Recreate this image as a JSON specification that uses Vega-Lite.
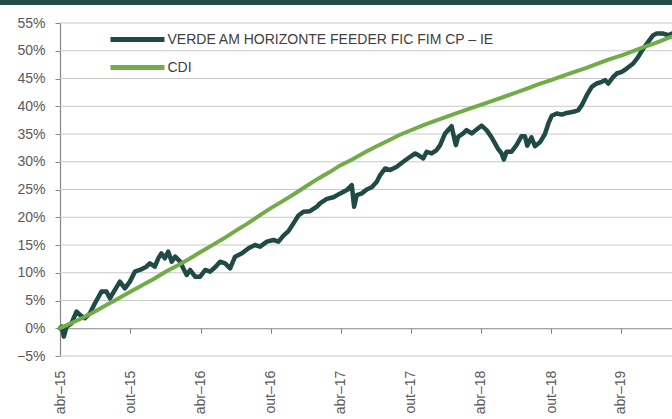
{
  "$schema": "https://vega.github.io/schema/vega-lite/v6.json",
  "autosize": {"type": "none"},
  "width": 612,
  "height": 333,
  "padding": {"left": 60, "top": 23, "right": 0, "bottom": 63},
  "background": "white",
  "config": {
    "view": {"stroke": null},
    "font": "Liberation Sans",
    "axis": {"labelFont": "Liberation Sans", "labelFontSize": 14, "labelColor": "#595959", "domainColor": "#868686", "tickColor": "#868686", "domainWidth": 1.2, "tickSize": 5, "labelOverlap": false, "labelFlush": false, "labelBound": false}
  },
  "datasets": {
    "gridvals": [
      {"g": -0.05}, {"g": 0.05}, {"g": 0.1}, {"g": 0.15}, {"g": 0.2}, {"g": 0.25},
      {"g": 0.3}, {"g": 0.35}, {"g": 0.4}, {"g": 0.45}, {"g": 0.5}, {"g": 0.55}
    ],
    "verde": [
      {"d": "2015-04-01", "v": 0.000}, {"d": "2015-04-06", "v": 0.003}, {"d": "2015-04-11", "v": -0.015},
      {"d": "2015-04-18", "v": 0.003}, {"d": "2015-05-01", "v": 0.009}, {"d": "2015-05-14", "v": 0.030},
      {"d": "2015-05-23", "v": 0.024}, {"d": "2015-06-05", "v": 0.018}, {"d": "2015-06-18", "v": 0.027},
      {"d": "2015-07-01", "v": 0.045}, {"d": "2015-07-18", "v": 0.066}, {"d": "2015-07-31", "v": 0.066},
      {"d": "2015-08-09", "v": 0.054}, {"d": "2015-08-22", "v": 0.069}, {"d": "2015-09-04", "v": 0.084},
      {"d": "2015-09-17", "v": 0.072}, {"d": "2015-09-30", "v": 0.084}, {"d": "2015-10-13", "v": 0.102},
      {"d": "2015-10-26", "v": 0.105}, {"d": "2015-11-12", "v": 0.111}, {"d": "2015-11-21", "v": 0.117},
      {"d": "2015-12-04", "v": 0.111}, {"d": "2015-12-13", "v": 0.126}, {"d": "2015-12-21", "v": 0.135},
      {"d": "2015-12-30", "v": 0.126}, {"d": "2016-01-08", "v": 0.138}, {"d": "2016-01-17", "v": 0.120},
      {"d": "2016-01-26", "v": 0.129}, {"d": "2016-02-08", "v": 0.120}, {"d": "2016-02-16", "v": 0.108},
      {"d": "2016-02-25", "v": 0.096}, {"d": "2016-03-05", "v": 0.105}, {"d": "2016-03-18", "v": 0.093},
      {"d": "2016-03-31", "v": 0.093}, {"d": "2016-04-13", "v": 0.105}, {"d": "2016-04-26", "v": 0.102},
      {"d": "2016-05-09", "v": 0.110}, {"d": "2016-05-22", "v": 0.120}, {"d": "2016-06-04", "v": 0.117},
      {"d": "2016-06-17", "v": 0.108}, {"d": "2016-06-30", "v": 0.129}, {"d": "2016-07-18", "v": 0.135},
      {"d": "2016-08-04", "v": 0.144}, {"d": "2016-08-21", "v": 0.150}, {"d": "2016-09-03", "v": 0.147},
      {"d": "2016-09-21", "v": 0.156}, {"d": "2016-10-08", "v": 0.159}, {"d": "2016-10-21", "v": 0.156},
      {"d": "2016-11-03", "v": 0.167}, {"d": "2016-11-16", "v": 0.175}, {"d": "2016-11-29", "v": 0.189},
      {"d": "2016-12-12", "v": 0.203}, {"d": "2016-12-25", "v": 0.210}, {"d": "2017-01-11", "v": 0.211},
      {"d": "2017-01-29", "v": 0.219}, {"d": "2017-02-06", "v": 0.225}, {"d": "2017-02-24", "v": 0.233},
      {"d": "2017-03-13", "v": 0.236}, {"d": "2017-03-31", "v": 0.243}, {"d": "2017-04-17", "v": 0.249},
      {"d": "2017-04-30", "v": 0.258}, {"d": "2017-05-06", "v": 0.219}, {"d": "2017-05-13", "v": 0.240},
      {"d": "2017-05-26", "v": 0.243}, {"d": "2017-06-08", "v": 0.250}, {"d": "2017-06-21", "v": 0.254},
      {"d": "2017-07-04", "v": 0.264}, {"d": "2017-07-13", "v": 0.276}, {"d": "2017-07-26", "v": 0.288},
      {"d": "2017-08-08", "v": 0.285}, {"d": "2017-08-25", "v": 0.291}, {"d": "2017-09-11", "v": 0.300},
      {"d": "2017-09-29", "v": 0.309}, {"d": "2017-10-12", "v": 0.315}, {"d": "2017-10-20", "v": 0.312},
      {"d": "2017-11-02", "v": 0.306}, {"d": "2017-11-11", "v": 0.318}, {"d": "2017-11-24", "v": 0.315},
      {"d": "2017-12-07", "v": 0.321}, {"d": "2017-12-16", "v": 0.330}, {"d": "2017-12-29", "v": 0.351},
      {"d": "2018-01-06", "v": 0.357}, {"d": "2018-01-15", "v": 0.364}, {"d": "2018-01-19", "v": 0.351},
      {"d": "2018-01-26", "v": 0.330}, {"d": "2018-02-01", "v": 0.345}, {"d": "2018-02-14", "v": 0.351},
      {"d": "2018-02-23", "v": 0.357}, {"d": "2018-03-08", "v": 0.351}, {"d": "2018-03-21", "v": 0.358},
      {"d": "2018-04-03", "v": 0.365}, {"d": "2018-04-16", "v": 0.357}, {"d": "2018-04-29", "v": 0.344},
      {"d": "2018-05-08", "v": 0.333}, {"d": "2018-05-16", "v": 0.323}, {"d": "2018-05-25", "v": 0.315},
      {"d": "2018-05-31", "v": 0.304}, {"d": "2018-06-07", "v": 0.318}, {"d": "2018-06-20", "v": 0.318},
      {"d": "2018-07-03", "v": 0.330}, {"d": "2018-07-16", "v": 0.346}, {"d": "2018-07-25", "v": 0.346},
      {"d": "2018-07-31", "v": 0.329}, {"d": "2018-08-11", "v": 0.344}, {"d": "2018-08-20", "v": 0.328},
      {"d": "2018-09-02", "v": 0.335}, {"d": "2018-09-15", "v": 0.350}, {"d": "2018-09-24", "v": 0.369},
      {"d": "2018-10-03", "v": 0.383}, {"d": "2018-10-16", "v": 0.387}, {"d": "2018-10-29", "v": 0.385},
      {"d": "2018-11-11", "v": 0.388}, {"d": "2018-11-28", "v": 0.390}, {"d": "2018-12-11", "v": 0.393},
      {"d": "2018-12-20", "v": 0.402}, {"d": "2019-01-02", "v": 0.420}, {"d": "2019-01-15", "v": 0.435},
      {"d": "2019-01-28", "v": 0.441}, {"d": "2019-02-10", "v": 0.444}, {"d": "2019-02-19", "v": 0.447},
      {"d": "2019-02-27", "v": 0.441}, {"d": "2019-03-12", "v": 0.453}, {"d": "2019-03-21", "v": 0.459},
      {"d": "2019-04-03", "v": 0.462}, {"d": "2019-04-16", "v": 0.468}, {"d": "2019-05-03", "v": 0.477},
      {"d": "2019-05-16", "v": 0.489}, {"d": "2019-05-29", "v": 0.504}, {"d": "2019-06-11", "v": 0.516},
      {"d": "2019-06-24", "v": 0.528}, {"d": "2019-07-03", "v": 0.531}, {"d": "2019-07-20", "v": 0.531},
      {"d": "2019-08-02", "v": 0.528}, {"d": "2019-08-12", "v": 0.531}
    ],
    "cdi": [
      {"d": "2015-04-01", "v": 0.0}, {"d": "2015-05-01", "v": 0.0095}, {"d": "2015-06-01", "v": 0.0194},
      {"d": "2015-07-01", "v": 0.0303}, {"d": "2015-08-01", "v": 0.0425}, {"d": "2015-09-01", "v": 0.0540},
      {"d": "2015-10-01", "v": 0.0657}, {"d": "2015-11-01", "v": 0.0775}, {"d": "2015-12-01", "v": 0.0889},
      {"d": "2016-01-01", "v": 0.1016}, {"d": "2016-02-01", "v": 0.1131}, {"d": "2016-03-01", "v": 0.1243},
      {"d": "2016-04-01", "v": 0.1373}, {"d": "2016-05-01", "v": 0.1493}, {"d": "2016-06-01", "v": 0.1620},
      {"d": "2016-07-01", "v": 0.1755}, {"d": "2016-08-01", "v": 0.1885}, {"d": "2016-09-01", "v": 0.2030},
      {"d": "2016-10-01", "v": 0.2164}, {"d": "2016-11-01", "v": 0.2291}, {"d": "2016-12-01", "v": 0.2419},
      {"d": "2017-01-01", "v": 0.2558}, {"d": "2017-02-01", "v": 0.2695}, {"d": "2017-03-01", "v": 0.2805},
      {"d": "2017-04-01", "v": 0.2939}, {"d": "2017-05-01", "v": 0.3041}, {"d": "2017-06-01", "v": 0.3163},
      {"d": "2017-07-01", "v": 0.3269}, {"d": "2017-08-01", "v": 0.3375}, {"d": "2017-09-01", "v": 0.3482},
      {"d": "2017-10-01", "v": 0.3568}, {"d": "2017-11-01", "v": 0.3655}, {"d": "2017-12-01", "v": 0.3733},
      {"d": "2018-01-01", "v": 0.3807}, {"d": "2018-02-01", "v": 0.3887}, {"d": "2018-03-01", "v": 0.3951},
      {"d": "2018-04-01", "v": 0.4025}, {"d": "2018-05-01", "v": 0.4098}, {"d": "2018-06-01", "v": 0.4171},
      {"d": "2018-07-01", "v": 0.4245}, {"d": "2018-08-01", "v": 0.4321}, {"d": "2018-09-01", "v": 0.4403},
      {"d": "2018-10-01", "v": 0.4471}, {"d": "2018-11-01", "v": 0.4549}, {"d": "2018-12-01", "v": 0.4620},
      {"d": "2019-01-01", "v": 0.4692}, {"d": "2019-02-01", "v": 0.4771}, {"d": "2019-03-01", "v": 0.4843},
      {"d": "2019-04-01", "v": 0.4913}, {"d": "2019-05-01", "v": 0.4990}, {"d": "2019-06-01", "v": 0.5071},
      {"d": "2019-07-01", "v": 0.5142}, {"d": "2019-08-01", "v": 0.5228}, {"d": "2019-08-12", "v": 0.5255}
    ]
  },
  "resolve": {"axis": {"x": "independent", "y": "independent"}},
  "layer": [
    {
      "data": {"name": "gridvals"},
      "mark": {"type": "rule", "color": "#c8c8c8", "strokeWidth": 1},
      "encoding": {
        "y": {"field": "g", "type": "quantitative", "axis": null}
      }
    },
    {
      "data": {"values": [{}]},
      "mark": {"type": "rect", "color": "#234b48", "clip": false},
      "encoding": {
        "x": {"datum": {"year": 2014, "month": 1, "date": 1, "utc": true}, "type": "temporal", "axis": null},
        "x2": {"datum": {"year": 2020, "month": 12, "date": 31, "utc": true}},
        "y": {"datum": 0.65, "type": "quantitative", "axis": null},
        "y2": {"datum": 0.5824}
      }
    },
    {
      "data": {"name": "verde"},
      "mark": {"type": "line", "strokeWidth": 4.5, "strokeJoin": "round", "strokeCap": "round"},
      "encoding": {
        "x": {
          "field": "d", "type": "temporal", "title": null,
          "scale": {"type": "utc", "domain": [{"year": 2015, "month": 4, "date": 1, "utc": true}, {"year": 2019, "month": 8, "date": 12, "utc": true}], "nice": false},
          "axis": {
            "values": [
              {"year": 2015, "month": 4, "date": 1, "utc": true}, {"year": 2015, "month": 10, "date": 1, "utc": true},
              {"year": 2016, "month": 4, "date": 1, "utc": true}, {"year": 2016, "month": 10, "date": 1, "utc": true},
              {"year": 2017, "month": 4, "date": 1, "utc": true}, {"year": 2017, "month": 10, "date": 1, "utc": true},
              {"year": 2018, "month": 4, "date": 1, "utc": true}, {"year": 2018, "month": 10, "date": 1, "utc": true},
              {"year": 2019, "month": 4, "date": 1, "utc": true}
            ],
            "labelExpr": "(utcmonth(datum.value) == 3 ? 'abr' : 'out') + '–' + utcFormat(datum.value, '%y')",
            "labelAngle": -90, "labelAlign": "right", "labelBaseline": "middle",
            "offset": -27.75, "labelPadding": 37, "grid": false
          }
        },
        "y": {
          "field": "v", "type": "quantitative", "title": null,
          "scale": {"domain": [-0.05, 0.55], "nice": false, "zero": false},
          "axis": {
            "values": [-0.05, 0, 0.05, 0.1, 0.15, 0.2, 0.25, 0.3, 0.35, 0.4, 0.45, 0.5, 0.55],
            "format": ".0%", "labelPadding": 10, "grid": false
          }
        },
        "color": {
          "datum": "VERDE AM HORIZONTE FEEDER FIC FIM CP – IE",
          "scale": {"domain": ["VERDE AM HORIZONTE FEEDER FIC FIM CP – IE", "CDI"], "range": ["#1f4a46", "#70ad47"]},
          "legend": {
            "title": null, "orient": "none", "legendX": 61.5, "legendY": 0.5, "padding": 0,
            "symbolType": "M-2,0H2", "symbolSize": 729, "symbolStrokeWidth": 5, "symbolFillColor": "transparent",
            "labelOffset": 14, "rowPadding": 2, "labelFontSize": 14, "labelColor": "#404040",
            "labelFont": "Liberation Sans", "labelLimit": 500
          }
        }
      }
    },
    {
      "data": {"name": "cdi"},
      "mark": {"type": "line", "strokeWidth": 4, "strokeCap": "round"},
      "encoding": {
        "x": {"field": "d", "type": "temporal", "axis": null},
        "y": {"field": "v", "type": "quantitative", "axis": null},
        "color": {"datum": "CDI"}
      }
    }
  ]
}
